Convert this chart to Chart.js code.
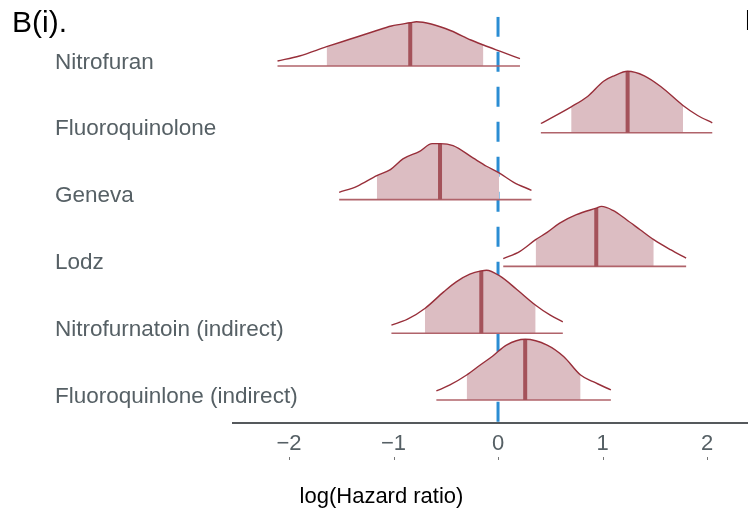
<!DOCTYPE html>
<html>
<head>
  <title>Hazard ratio posteriors</title>
  <script src="https://cdn.jsdelivr.net/npm/chart.js"></script>
  <style>
    body {
      margin: 0;
      background: #fff;
    }
  </style>
</head>
<body>
  <canvas id="areas" width="748" height="515"></canvas>

  <script>
    // Parameters, top to bottom
    const rowNames = [
      'Nitrofuran',
      'Fluoroquinolone',
      'Geneva',
      'Lodz',
      'Nitrofurnatoin (indirect)',
      'Fluoroquinlone (indirect)'
    ];

    // Posterior density of log(HR) per parameter (height as a share of row spacing)
    const densX = [
      [-2.11, -1.90, -1.64, -1.42, -1.19, -1.02, -0.84, -0.78, -0.64, -0.45, -0.26, -0.14, 0.03, 0.21],
      [0.41, 0.70, 0.86, 1.01, 1.11, 1.24, 1.40, 1.56, 1.77, 1.91, 2.05],
      [-1.52, -1.35, -1.16, -1.03, -0.91, -0.75, -0.63, -0.555, -0.43, -0.24, -0.11, 0.01, 0.15, 0.32],
      [0.05, 0.21, 0.36, 0.47, 0.59, 0.75, 0.94, 0.99, 1.10, 1.23, 1.36, 1.49, 1.65, 1.80],
      [-1.02, -0.87, -0.70, -0.52, -0.40, -0.27, -0.16, -0.11, 0.02, 0.18, 0.36, 0.50, 0.62],
      [-0.59, -0.46, -0.30, -0.17, -0.05, 0.08, 0.26, 0.47, 0.63, 0.79, 0.91, 1.08]
    ];
    const densY = [
      [0.075, 0.150, 0.289, 0.400, 0.516, 0.599, 0.648, 0.663, 0.629, 0.528, 0.389, 0.314, 0.214, 0.109],
      [0.139, 0.389, 0.548, 0.772, 0.853, 0.921, 0.853, 0.689, 0.409, 0.259, 0.150],
      [0.109, 0.199, 0.359, 0.449, 0.609, 0.723, 0.838, 0.838, 0.808, 0.624, 0.499, 0.400, 0.259, 0.139],
      [0.115, 0.225, 0.400, 0.509, 0.648, 0.774, 0.873, 0.898, 0.838, 0.699, 0.549, 0.400, 0.250, 0.124],
      [0.120, 0.205, 0.370, 0.618, 0.768, 0.883, 0.933, 0.943, 0.853, 0.654, 0.419, 0.269, 0.169],
      [0.135, 0.225, 0.374, 0.524, 0.659, 0.823, 0.909, 0.823, 0.648, 0.374, 0.274, 0.150]
    ];

    // Credible interval and median
    const intervalLo = [-1.64, 0.70, -1.16, 0.36, -0.70, -0.30];
    const intervalHi = [-0.14, 1.77, 0.01, 1.49, 0.36, 0.79];
    const medianX = [-0.84, 1.24, -0.555, 0.94, -0.16, 0.26];
    const medianY = [0.648, 0.921, 0.838, 0.873, 0.933, 0.909];

    const xTicks = [-2, -1, 0, 1, 2];

    const FONT = '"Liberation Sans", Arial, sans-serif';
    const GREY = '#566065';
    const C_LIGHT = '#dcbdc2';
    const C_DARK = '#982f3a';
    const C_MID = '#b0636a';
    const C_MED = '#a4525a';
    const C_ZERO = '#2b8dd3';

    const Y_MIN = 0.66, Y_MAX = 6.738;

    const datasets = [];

    // zero reference line, sits under everything
    datasets.push({
      data: [{ x: 0, y: Y_MAX }, { x: 0, y: Y_MIN }],
      borderColor: C_ZERO,
      borderWidth: 3,
      borderDash: [20, 15],
      pointRadius: 0,
      fill: false,
      order: 10
    });

    rowNames.forEach((name, i) => {
      const base = rowNames.length - i;
      const pts = densX[i].map((x, j) => ({ x: x, y: base + densY[i][j] }));
      const inner = pts.filter(p => p.x >= intervalLo[i] - 1e-9 && p.x <= intervalHi[i] + 1e-9);

      // shaded interval
      datasets.push({
        data: inner,
        backgroundColor: C_LIGHT,
        borderWidth: 0,
        pointRadius: 0,
        cubicInterpolationMode: 'monotone',
        fill: { value: base },
        order: 5
      });
      // baseline under the whole density
      datasets.push({
        data: [{ x: densX[i][0], y: base }, { x: densX[i][densX[i].length - 1], y: base }],
        borderColor: C_MID,
        borderWidth: 1.6,
        pointRadius: 0,
        fill: false,
        order: 4
      });
      // median segment
      datasets.push({
        data: [{ x: medianX[i], y: base }, { x: medianX[i], y: base + medianY[i] }],
        borderColor: C_MED,
        borderWidth: 4,
        pointRadius: 0,
        fill: false,
        order: 3
      });
      // density outline
      datasets.push({
        data: pts,
        borderColor: C_DARK,
        borderWidth: 1.4,
        pointRadius: 0,
        cubicInterpolationMode: 'monotone',
        fill: false,
        order: 2
      });
    });

    // row names, panel letters, axis title and the small tick marks under the labels
    const decorations = {
      id: 'decorations',
      afterDraw(chart) {
        const ctx = chart.ctx;
        const xs = chart.scales.x;
        const ys = chart.scales.y;
        ctx.save();

        ctx.font = '22.5px ' + FONT;
        ctx.fillStyle = GREY;
        ctx.textAlign = 'left';
        ctx.textBaseline = 'middle';
        rowNames.forEach((name, i) => {
          ctx.fillText(name, 55, ys.getPixelForValue(rowNames.length - i) - 3.5);
        });

        ctx.fillStyle = '#000';
        ctx.textBaseline = 'alphabetic';
        ctx.font = '30px ' + FONT;
        ctx.fillText('B(i).', 12, 31.5);
        ctx.fillText('B(ii).', 744.5, 30);

        ctx.font = '22px ' + FONT;
        ctx.textAlign = 'center';
        ctx.textBaseline = 'middle';
        ctx.fillText('log(Hazard ratio)', 381.5, 497);

        ctx.strokeStyle = '#777';
        ctx.lineWidth = 1;
        xTicks.forEach(v => {
          const px = Math.round(xs.getPixelForValue(v)) + 0.5;
          ctx.beginPath();
          ctx.moveTo(px, 457);
          ctx.lineTo(px, 460);
          ctx.stroke();
        });
        ctx.restore();
      }
    };

    new Chart(document.getElementById('areas'), {
      type: 'line',
      data: { datasets: datasets },
      options: {
        responsive: false,
        animation: false,
        devicePixelRatio: 1,
        layout: { padding: { left: 0, top: 16.7, right: 0, bottom: 0 } },
        plugins: {
          legend: { display: false },
          tooltip: { enabled: false }
        },
        scales: {
          x: {
            type: 'linear',
            min: -2.536,
            max: 2.392,
            afterBuildTicks: s => { s.ticks = xTicks.map(v => ({ value: v })); },
            afterFit: s => { s.height = 92.3; },
            grid: { display: false, drawTicks: false },
            border: { display: true, color: '#55595c', width: 2 },
            ticks: {
              padding: 8,
              color: GREY,
              font: { family: FONT, size: 22 },
              callback: v => String(v).replace('-', '\u2212')
            }
          },
          y: {
            type: 'linear',
            min: Y_MIN,
            max: Y_MAX,
            afterFit: s => { s.width = 233; },
            grid: { display: false, drawTicks: false },
            border: { display: false },
            ticks: { display: false }
          }
        }
      },
      plugins: [decorations]
    });
  </script>
</body>
</html>
